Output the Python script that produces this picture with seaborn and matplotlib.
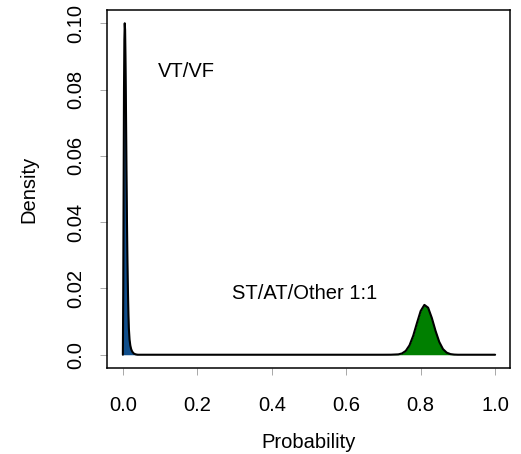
import matplotlib
matplotlib.use("Agg")
import matplotlib.pyplot as plt
import seaborn as sns
import pandas as pd

# ---- data ----
vt_x = [0.000, 0.001, 0.002, 0.003, 0.004, 0.005, 0.006, 0.007, 0.008, 0.009,
        0.010, 0.011, 0.012, 0.013, 0.014, 0.015, 0.016, 0.018, 0.020, 0.022,
        0.024, 0.026, 0.030, 0.035, 0.040]
vt_y = [0.000, 0.020, 0.050, 0.080, 0.095, 0.100, 0.098, 0.090, 0.078, 0.065,
        0.052, 0.040, 0.031, 0.023, 0.017, 0.012, 0.008, 0.0045, 0.0028, 0.0018,
        0.0012, 0.0008, 0.0003, 0.0001, 0.000]

st_x = [0.700, 0.720, 0.740, 0.750, 0.760, 0.770, 0.780, 0.790, 0.800, 0.810,
        0.820, 0.830, 0.840, 0.850, 0.860, 0.870, 0.880, 0.890, 0.900, 1.000]
st_y = [0.0000, 0.00001, 0.00011, 0.0004, 0.00117, 0.00284, 0.00574, 0.00955, 0.0132, 0.01504,
        0.0142, 0.0111, 0.0072, 0.00386, 0.0017, 0.00063, 0.00019, 0.00005, 0.0000, 0.0000]

labels = ["VT/VF", "ST/AT/Other 1:1"]
label_pos_x = [0.17, 0.488]
label_pos_y = [0.0853, 0.0186]

x_ticks = [0.0, 0.2, 0.4, 0.6, 0.8, 1.0]
x_ticklabels = ["0.0", "0.2", "0.4", "0.6", "0.8", "1.0"]
y_ticks = [0.00, 0.02, 0.04, 0.06, 0.08, 0.10]
y_ticklabels = ["0.0", "0.02", "0.04", "0.06", "0.08", "0.10"]

sns.set_style("white")
plt.rcParams["font.family"] = ["Liberation Sans", "DejaVu Sans"]
plt.rcParams["text.color"] = "black"
plt.rcParams["axes.labelcolor"] = "black"
plt.rcParams["xtick.color"] = "black"
plt.rcParams["ytick.color"] = "black"

fig = plt.figure(figsize=(5.21, 4.54), dpi=100)
ax = fig.add_axes([106.5 / 521, 1 - 368 / 454, (510 - 106.5) / 521, (368 - 10) / 454])

ax.fill_between(vt_x, vt_y, 0, color="#104E8B", linewidth=0)
ax.fill_between(st_x, st_y, 0, color="#007F00", linewidth=0)

curve = pd.DataFrame({"x": vt_x + st_x, "y": vt_y + st_y})
sns.lineplot(data=curve, x="x", y="y", sort=False, estimator=None,
             color="black", linewidth=1.5, ax=ax)

for t, tx, ty in zip(labels, label_pos_x, label_pos_y):
    ax.text(tx, ty, t, ha="center", va="center", fontsize=14.5, color="black")

ax.set_xlim(-0.044, 1.04)
ax.set_ylim(-0.004, 0.104)
ax.set_xticks(x_ticks)
ax.set_xticklabels(x_ticklabels, fontsize=14.5)
ax.set_yticks(y_ticks)
ax.set_yticklabels(y_ticklabels, fontsize=14.5, rotation=90, va="center")
ax.tick_params(axis="both", direction="out", length=5, width=0.6, color="#9a9a9a",
               labelcolor="black", bottom=True, left=True)
ax.tick_params(axis="x", pad=15)
ax.tick_params(axis="y", pad=10.5)
ax.set_xlabel("Probability", fontsize=14.5, labelpad=13, color="black")
ax.set_ylabel("Density", fontsize=14.5, labelpad=20, color="black")
for s in ax.spines.values():
    s.set_visible(True)
    s.set_color("black")
    s.set_linewidth(1.1)
ax.grid(False)

fig.savefig("out.png", dpi=100)
